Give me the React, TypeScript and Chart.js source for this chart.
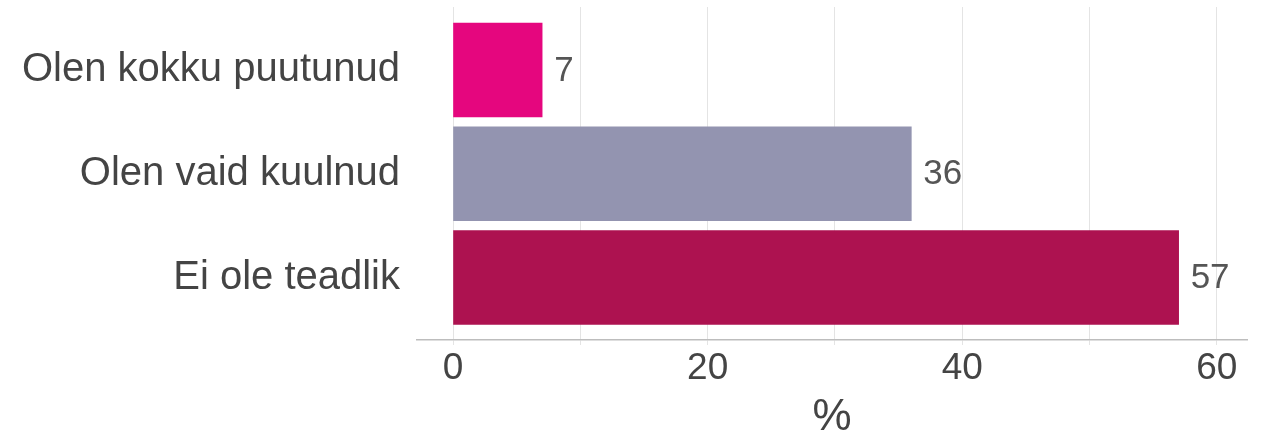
import React, { useEffect, useRef } from "react";
import { Chart, registerables } from "chart.js";

Chart.register(...registerables);

const categories = ["Olen kokku puutunud", "Olen vaid kuulnud", "Ei ole teadlik"];
const values = [7, 36, 57];
const barColors = ["#E5067E", "#9394B0", "#AD1250"];
const xTickLabels = ["0", "20", "40", "60"];
const axisTitle = "%";

const FONT = "'Liberation Sans', Arial, Helvetica, sans-serif";

const valueLabelPlugin = {
  id: "valueLabels",
  afterDatasetsDraw(chart: any) {
    const { ctx } = chart;
    const meta = chart.getDatasetMeta(0);
    ctx.save();
    ctx.font = `35px ${FONT}`;
    ctx.fillStyle = "#555555";
    ctx.textAlign = "left";
    ctx.textBaseline = "middle";
    meta.data.forEach((bar: any, i: number) => {
      ctx.fillText(String(values[i]), bar.x + 12, bar.y + 1);
    });
    ctx.restore();
  },
};

export default function App() {
  const canvasRef = useRef<HTMLCanvasElement>(null);

  useEffect(() => {
    if (!canvasRef.current) return;
    const chart = new Chart(canvasRef.current, {
      type: "bar",
      data: {
        datasets: [
          {
            data: values.map((v, i) => ({ x: v, y: i })),
            backgroundColor: barColors,
            borderWidth: 0,
            barThickness: 94,
          },
        ],
      },
      options: {
        indexAxis: "y",
        animation: false,
        responsive: false,
        maintainAspectRatio: false,
        layout: { padding: { top: 7, right: 14, left: 0, bottom: 0 } },
        plugins: {
          legend: { display: false },
          tooltip: { enabled: false },
        },
        scales: {
          x: {
            type: "linear",
            min: -2.83,
            max: 62.37,
            afterFit: (s: any) => {
              s.height = 100;
              s.paddingLeft = 0;
              s.paddingRight = 0;
            },
            ticks: {
              stepSize: 10,
              includeBounds: false,
              autoSkip: false,
              maxRotation: 0,
              padding: 2,
              color: "#444444",
              font: { size: 37, family: FONT },
              callback: (v: any) => {
                const idx = xTickLabels.indexOf(String(v));
                return idx >= 0 ? xTickLabels[idx] : "";
              },
            },
            grid: {
              color: "#e4e4e4",
              lineWidth: 1,
              drawTicks: true,
              tickLength: 5,
            },
            border: { display: true, color: "#bdbdbd", width: 1.5 },
            title: {
              display: true,
              text: axisTitle,
              color: "#444444",
              font: { size: 44, family: FONT, lineHeight: 1 },
              padding: { top: 0, bottom: 0 },
            },
          },
          y: {
            type: "linear",
            reverse: true,
            offset: false,
            min: -0.607,
            max: 2.602,
            afterFit: (s: any) => {
              s.width = 417;
              s.paddingTop = 0;
              s.paddingBottom = 0;
            },
            afterBuildTicks: (s: any) => {
              s.ticks = categories.map((_, i) => ({ value: i }));
            },
            ticks: {
              autoSkip: false,
              padding: 17,
              color: "#444444",
              font: { size: 40, family: FONT },
              callback: (v: any) => categories[Math.round(Number(v))] ?? "",
            },
            grid: { display: false, drawTicks: false },
            border: { display: false },
          },
        },
      },
      plugins: [valueLabelPlugin],
    });
    return () => chart.destroy();
  }, []);

  return (
    <div style={{ position: "fixed", left: 0, top: 0, width: 1261, height: 440, background: "#fff" }}>
      <canvas ref={canvasRef} width={1261} height={440} style={{ width: 1261, height: 440, display: "block" }} />
    </div>
  );
}
